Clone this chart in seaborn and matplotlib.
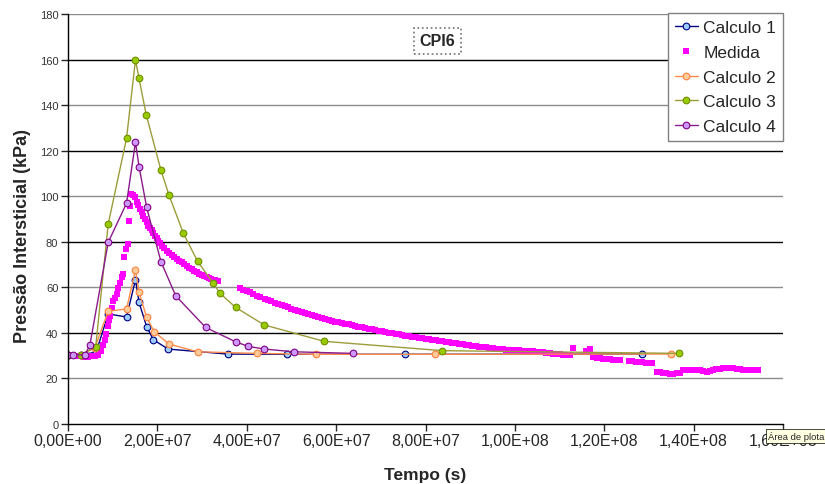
import numpy as np
import matplotlib
matplotlib.use("Agg")
import matplotlib.pyplot as plt
import seaborn as sns
from matplotlib.ticker import FuncFormatter, MultipleLocator

# === dados (tempo em 1e6 s, pressão em kPa) ===
t_calc1 = [0, 3.0, 6.3, 9.0, 13.1, 15.1, 15.9, 17.6, 19.1, 22.4, 35.7, 48.9, 75.5, 128.5]
p_calc1 = [30.5, 30.5, 31.5, 48.3, 47.0, 63.3, 53.4, 42.7, 37.0, 32.9, 30.7, 30.6, 30.6, 30.7]

t_calc2 = [0, 3.0, 6.0, 9.0, 13.1, 15.1, 15.9, 17.6, 19.3, 22.6, 29.0, 42.4, 55.6, 82.1, 135.0]
p_calc2 = [30.5, 30.5, 33.4, 49.5, 50.5, 67.7, 57.8, 46.8, 40.5, 35.1, 31.7, 31.0, 30.6, 30.6, 30.7]

t_calc3 = [0, 3.0, 6.2, 9.0, 13.1, 15.1, 15.9, 17.5, 20.8, 22.6, 25.8, 29.0, 32.5, 34.0, 37.5,
           43.9, 57.3, 83.7, 136.7]
p_calc3 = [30.5, 30.5, 33.9, 87.8, 125.4, 159.9, 151.7, 135.8, 111.4, 100.5, 83.8, 71.4, 61.8,
           57.4, 51.2, 43.5, 36.3, 32.2, 31.0]

t_calc4 = [0, 1.2, 3.8, 4.9, 9.0, 13.1, 15.1, 15.9, 17.6, 20.8, 24.1, 30.8, 37.5, 40.3, 43.9, 50.6, 63.8]
p_calc4 = [30.5, 30.4, 30.3, 34.7, 79.8, 96.9, 123.7, 113.0, 95.1, 71.3, 56.3, 42.4, 36.1, 34.1,
           32.9, 31.7, 31.0]

t_medida = [2.0, 2.8, 3.6, 4.4, 5.2, 6.0, 6.8, 7.3, 7.8, 8.2, 8.5, 8.9, 9.2, 9.5, 9.8, 10.1, 10.5,
            10.9, 11.3, 11.6, 12.0, 12.2, 12.6, 13.0, 13.4, 13.7, 13.9, 14.2,
            14.6, 15.0, 15.4, 15.7, 16.1, 16.5, 16.8, 17.2, 17.6, 18.0, 18.4, 18.7, 19.1, 19.5, 19.9,
            20.2, 20.6, 21.0, 21.5, 22.1, 22.6, 23.2, 23.8, 24.3, 24.9, 25.4, 26.0, 26.6, 27.1, 27.7,
            28.2, 28.8, 29.3, 29.9, 30.4, 31.0, 31.6, 32.1, 32.8, 33.6,
            38.5, 39.2, 40.0, 40.7, 41.4, 42.2, 43.0, 44.0, 44.7, 45.5, 46.3, 47.0, 47.8, 48.5, 49.3,
            50.0, 50.8, 51.5, 52.3, 53.0, 53.8, 54.5, 55.3, 56.0, 56.8, 57.5, 58.3, 59.0, 59.8, 60.5,
            61.3, 62.0, 62.8, 63.5, 64.3, 65.0, 65.8, 66.5, 67.3, 68.0, 68.8, 69.5, 70.3, 71.0, 71.8,
            72.5, 73.3, 74.0, 74.8, 75.5, 76.3, 77.0, 77.8, 78.5, 79.3, 80.0, 80.8, 81.5, 82.3, 83.0,
            83.8, 84.5, 85.3, 86.0, 86.8, 87.5, 88.3, 89.0, 89.8, 90.5, 91.3, 92.0, 92.8, 93.5, 94.3,
            95.0, 95.8, 96.5, 97.3, 98.0, 98.8, 99.5, 100.3, 101.0, 101.8, 102.5, 103.3, 104.0, 104.8,
            105.5, 106.3, 107.0, 107.8, 108.5, 109.3, 110.0, 110.8, 111.5, 112.3,
            113.0, 116.0, 116.8,
            117.5, 118.3, 119.0, 119.8, 120.5, 121.3, 122.0, 122.8, 123.5,
            125.5, 126.3, 127.0, 127.8, 128.5, 129.3, 130.0, 130.6,
            131.7, 132.4, 133.2, 133.9, 134.7, 135.4, 136.2, 136.9, 137.6, 138.4, 139.1, 139.9, 140.6,
            141.4, 142.1, 142.9, 143.6, 144.4, 145.1, 145.9, 146.6, 147.4, 148.1, 148.8, 149.6, 150.3,
            151.1, 152.0, 152.8, 153.6, 154.4]
p_medida = [30.0, 29.8, 29.6, 29.6, 29.8, 30.0, 30.2, 32.0, 34.5, 37.0, 39.5, 43.0, 45.5, 47.5, 51.0,
            54.0, 55.5, 57.0, 59.5, 62.0, 64.5, 66.0, 73.5, 77.0, 79.0, 89.0, 95.5, 101.0,
            100.5, 99.5, 97.5, 96.0, 94.5, 93.0, 91.5, 90.0, 88.5, 87.0, 86.0, 85.0, 83.8, 82.7, 81.5,
            80.5, 79.4, 78.3, 77.2, 76.1, 75.1, 74.2, 73.3, 72.4, 71.7, 71.0, 70.2, 69.5, 68.7, 68.0,
            67.3, 66.6, 66.0, 65.4, 64.9, 64.4, 64.0, 63.7, 63.3, 62.9,
            59.6, 59.0, 58.4, 57.8, 57.1, 56.4, 55.7, 55.0, 54.4, 53.9, 53.3, 52.8, 52.2, 51.7, 51.2,
            50.7, 50.2, 49.7, 49.2, 48.7, 48.3, 47.9, 47.4, 47.0, 46.6, 46.2, 45.8, 45.4, 45.0, 44.7,
            44.3, 44.0, 43.7, 43.4, 43.1, 42.8, 42.5, 42.2, 41.9, 41.6, 41.3, 41.0, 40.7, 40.4, 40.1,
            39.8, 39.6, 39.3, 39.0, 38.8, 38.5, 38.3, 38.0, 37.8, 37.6, 37.4, 37.2, 37.0, 36.8, 36.6,
            36.4, 36.2, 36.0, 35.7, 35.5, 35.3, 35.1, 34.9, 34.6, 34.4, 34.2, 34.0, 33.8, 33.6, 33.4,
            33.2, 33.0, 32.9, 32.8, 32.7, 32.6, 32.5, 32.4, 32.3, 32.2, 32.1, 32.0, 31.9, 31.8,
            31.7, 31.4, 31.2, 31.0, 30.8, 30.7, 30.6, 30.5, 30.3, 30.2,
            33.4, 32.2, 32.9,
            29.3, 29.1, 28.8, 28.6, 28.5, 28.4, 28.3, 28.2, 28.1,
            27.6, 27.5, 27.3, 27.2, 27.1, 27.0, 26.9, 26.8,
            23.0, 22.7, 22.4, 22.2, 21.9, 22.0, 22.2, 22.4, 23.8, 23.9, 23.8, 23.8, 23.7,
            23.5, 23.3, 23.0, 23.2, 23.7, 24.1, 24.3, 24.4, 24.4, 24.4, 24.4, 24.2, 24.0,
            23.7, 23.7, 23.7, 23.7, 23.7]

ESCALA_T = 1e6

sns.set_style("white")
plt.rcParams['font.family'] = ['Liberation Sans', 'DejaVu Sans']

fig = plt.figure(figsize=(8.25, 4.85), dpi=100)
ax = fig.add_axes([68 / 825, 1 - 425 / 485, 715 / 825, 410 / 485])

# linhas de grade (alternando preto / cinza como no Excel exportado)
for v in range(20, 181, 20):
    ax.axhline(v, color="black" if v % 40 == 0 else "#8c8c8c", lw=1, zorder=0)

estilo = dict(estimator=None, sort=False, marker="o", markersize=4.8, markeredgewidth=0.8, lw=1)


def serie_calculo(t, p, cor_linha, cor_face, cor_borda, nome):
    sns.lineplot(x=np.array(t) * ESCALA_T, y=p, color=cor_linha, label=nome, ax=ax, **estilo)
    linha = ax.lines[-1]
    linha.set_markerfacecolor(cor_face)
    linha.set_markeredgecolor(cor_borda)


serie_calculo(t_calc1, p_calc1, "#000080", "#99CCFF", "#000080", "Calculo 1")
ax.plot(np.array(t_medida) * ESCALA_T, p_medida, ls="none", marker="s", markersize=4.8,
        color="#FF00FF", markeredgewidth=0, label="Medida")
serie_calculo(t_calc2, p_calc2, "#FF8C4C", "#FFCC99", "#FF8040", "Calculo 2")
serie_calculo(t_calc3, p_calc3, "#9C9C3A", "#99CC00", "#6F8F00", "Calculo 3")
serie_calculo(t_calc4, p_calc4, "#8B1A8B", "#CC99FF", "#800080", "Calculo 4")

ax.set_xlim(0, 1.6e8)
ax.set_ylim(0, 180)
ax.xaxis.set_major_locator(MultipleLocator(2e7))
ax.yaxis.set_major_locator(MultipleLocator(20))
ax.xaxis.set_major_formatter(FuncFormatter(lambda v, pos: f"{v:.2E}".replace(".", ",")))

for s in ["top", "right"]:
    ax.spines[s].set_visible(False)
for s in ["left", "bottom"]:
    ax.spines[s].set_color("black")
    ax.spines[s].set_linewidth(1)

ax.tick_params(axis="x", bottom=True, direction="out", length=5, width=1, labelsize=11.5, pad=1.5)
ax.tick_params(axis="y", left=True, direction="out", length=5, width=1, labelsize=8, pad=2,
               labelcolor="#333333")

ax.set_xlabel("Tempo (s)", fontsize=12.5, fontweight="bold")
ax.set_ylabel("Pressão Intersticial (kPa)", fontsize=13, fontweight="bold")
ax.xaxis.set_label_coords(0.499, -0.105)
ax.yaxis.set_label_coords(-0.052, 0.46)

leg = ax.legend(loc="upper right", bbox_to_anchor=(1.0, 1.003), borderaxespad=0, fontsize=12.5,
                frameon=True, fancybox=False, framealpha=1, handlelength=1.35, handletextpad=0.3,
                labelspacing=0.56, borderpad=0.4)
leg.get_frame().set_edgecolor("#808080")
leg.get_frame().set_linewidth(1)

# título "CPI6" dentro de caixa selecionada
ax.text(0.517, 0.935, "CPI6", transform=ax.transAxes, ha="center", va="center", fontsize=11.5,
        fontweight="bold",
        bbox=dict(boxstyle="square,pad=0.35", facecolor="white", edgecolor="#707070", linestyle=":", lw=1.2))

# dica de ferramenta do Excel
fig.text(768 / 825, 1 - 437 / 485, "Área de plota", fontsize=6.8, ha="left", va="center",
         bbox=dict(boxstyle="square,pad=0.2", facecolor="#FFFFE1", edgecolor="black", lw=0.5))

fig.savefig("out.png", dpi=100)
